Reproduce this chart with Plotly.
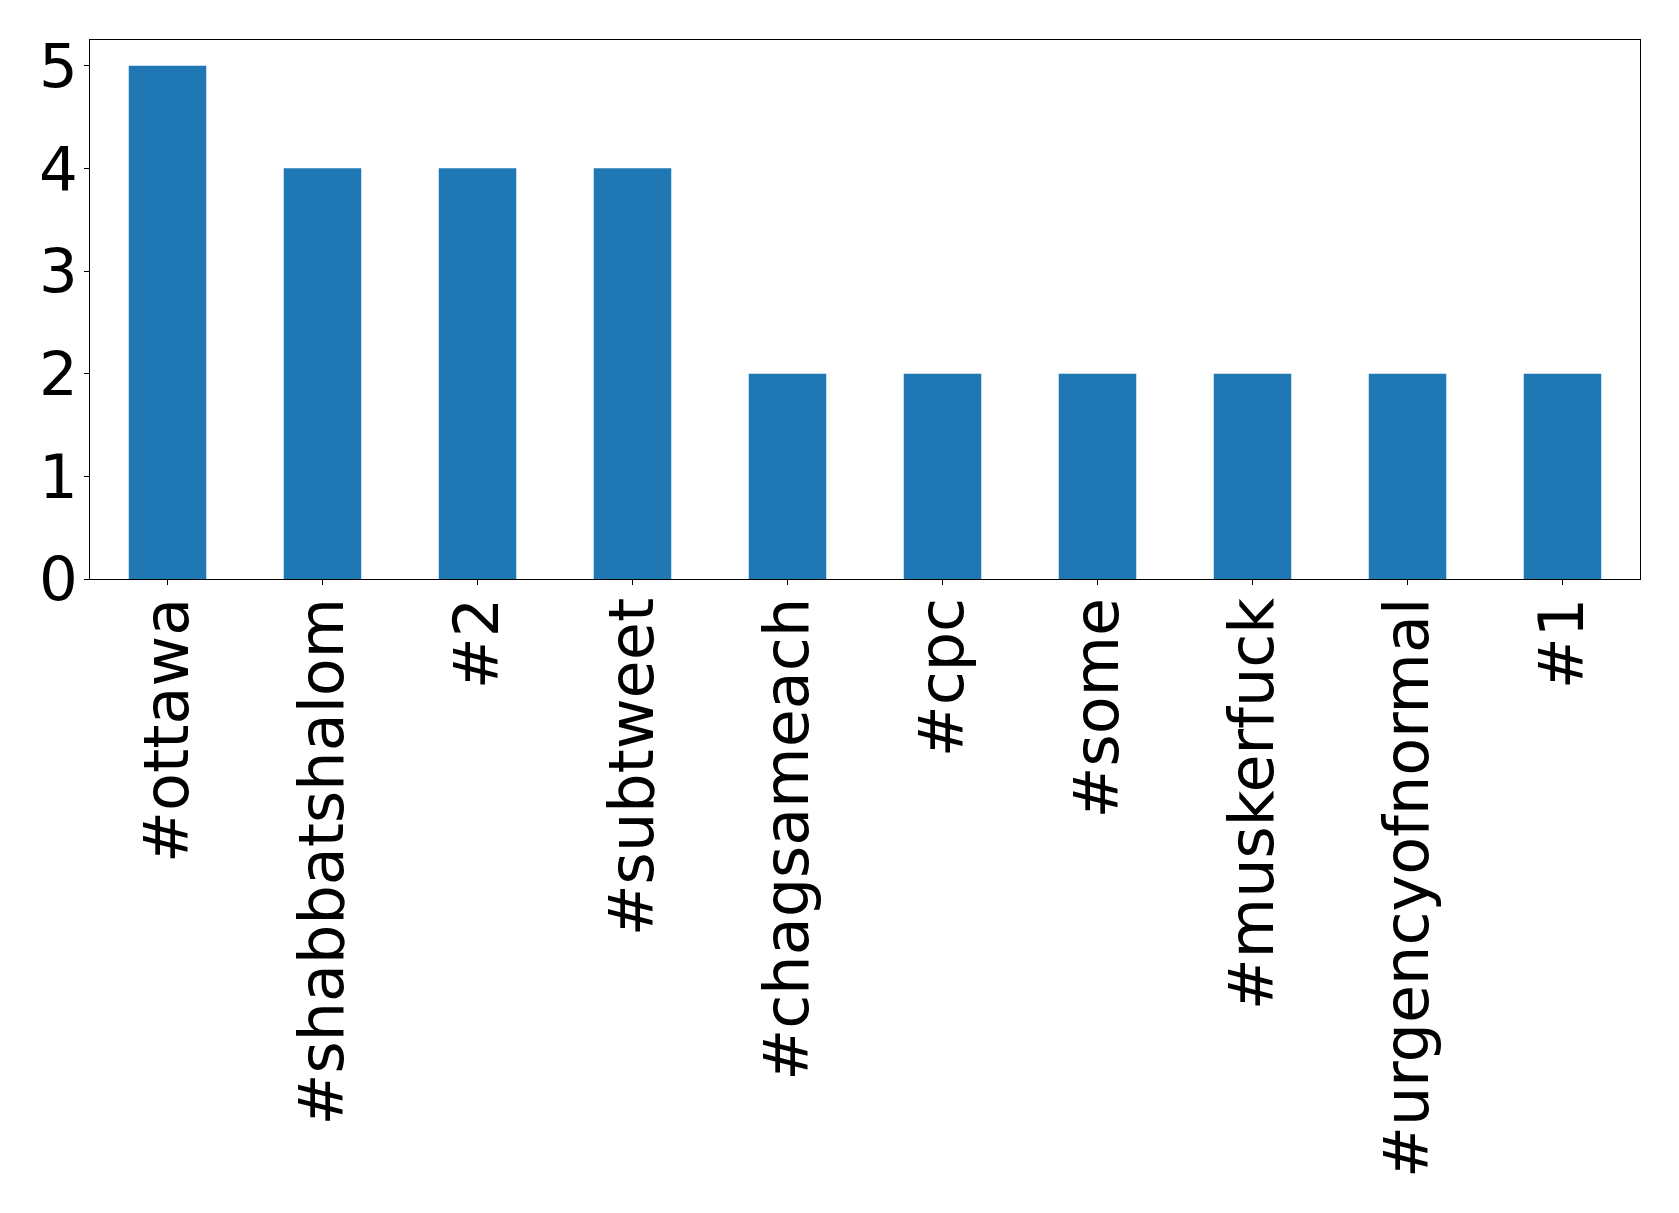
import plotly.graph_objects as go

categories = ["#ottawa", "#shabbatshalom", "#2", "#subtweet", "#chagsameach",
              "#cpc", "#some", "#muskerfuck", "#urgencyofnormal", "#1"]
counts = [5, 4, 4, 4, 2, 2, 2, 2, 2, 2]
y_ticks = [0, 1, 2, 3, 4, 5]

fig = go.Figure(go.Bar(x=list(range(len(categories))), y=counts,
                       marker=dict(color="#1f77b4", line=dict(width=0)),
                       width=0.5))

x_font = dict(family="DejaVu Sans", size=62, color="black")
y_font = dict(family="DejaVu Sans", size=61, color="black")
fig.update_layout(
    width=1679, height=1213,
    margin=dict(l=82, r=47, t=32, b=642),
    plot_bgcolor="white", paper_bgcolor="white",
    showlegend=False,
    font=y_font,
)
fig.update_xaxes(
    range=[-0.5, len(categories) - 0.5],
    tickmode="array", tickvals=list(range(len(categories))), ticktext=categories,
    tickangle=-90, tickfont=x_font, ticklabelstandoff=-12,
    ticks="outside", ticklen=5, tickwidth=1, tickcolor="black",
    showline=True, linecolor="black", linewidth=1, mirror=True,
    showgrid=False, zeroline=False,
)
fig.update_yaxes(
    range=[0, 5.25],
    tickmode="array", tickvals=y_ticks, ticktext=[str(v) for v in y_ticks],
    tickfont=y_font, ticklabelstandoff=-6,
    ticks="outside", ticklen=5, tickwidth=1, tickcolor="black",
    showline=True, linecolor="black", linewidth=1, mirror=True,
    showgrid=False, zeroline=False,
)
fig.write_html("out.html")
